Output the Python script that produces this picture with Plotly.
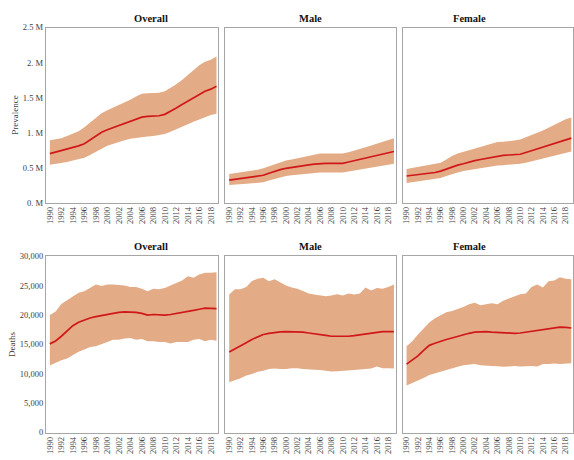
import plotly.graph_objects as go
import numpy as np

years = list(range(1990, 2020))
panel_titles = ["Overall", "Male", "Female"]
prev_ticks = [0, 0.5, 1, 1.5, 2, 2.5]
prev_ticktext = ["0. M", "0.5 M", "1. M", "1.5 M", "2. M", "2.5 M"]
death_ticks = [0, 5000, 10000, 15000, 20000, 25000, 30000]
death_ticktext = ["0", "5,000", "10,000", "15,000", "20,000", "25,000", "30,000"]

# Prevalence (millions)
prev_overall_mean = [0.70, 0.72, 0.745, 0.765, 0.785, 0.81, 0.84, 0.895, 0.96, 1.005, 1.04, 1.07, 1.10, 1.13, 1.16,
                     1.19, 1.22, 1.23, 1.23, 1.24, 1.26, 1.30, 1.35, 1.40, 1.45, 1.50, 1.55, 1.59, 1.62, 1.66]
prev_overall_upper = [0.89, 0.905, 0.92, 0.95, 0.98, 1.02, 1.075, 1.14, 1.215, 1.275, 1.32, 1.355, 1.39, 1.43, 1.47,
                      1.515, 1.555, 1.56, 1.56, 1.57, 1.59, 1.635, 1.69, 1.75, 1.82, 1.89, 1.96, 2.01, 2.04, 2.085]
prev_overall_lower = [0.54, 0.55, 0.56, 0.58, 0.60, 0.62, 0.64, 0.68, 0.73, 0.77, 0.81, 0.84, 0.866, 0.89, 0.91,
                      0.925, 0.94, 0.945, 0.95, 0.96, 0.98, 1.01, 1.05, 1.085, 1.12, 1.155, 1.19, 1.22, 1.25, 1.27]

prev_male_mean = [0.32, 0.33, 0.345, 0.35, 0.36, 0.375, 0.39, 0.42, 0.45, 0.47, 0.49, 0.505, 0.52, 0.53, 0.54,
                  0.55, 0.56, 0.56, 0.56, 0.56, 0.56, 0.58, 0.60, 0.615, 0.63, 0.65, 0.67, 0.69, 0.71, 0.73]
prev_male_upper = [0.41, 0.42, 0.435, 0.44, 0.45, 0.47, 0.49, 0.52, 0.55, 0.575, 0.60, 0.615, 0.63, 0.65, 0.67,
                   0.685, 0.70, 0.70, 0.70, 0.70, 0.70, 0.72, 0.74, 0.765, 0.79, 0.815, 0.84, 0.87, 0.90, 0.92]
prev_male_lower = [0.25, 0.26, 0.265, 0.27, 0.275, 0.28, 0.29, 0.315, 0.34, 0.36, 0.38, 0.39, 0.40, 0.41, 0.42,
                   0.425, 0.43, 0.43, 0.43, 0.43, 0.43, 0.445, 0.46, 0.47, 0.48, 0.50, 0.52, 0.53, 0.54, 0.555]

prev_female_mean = [0.38, 0.39, 0.40, 0.405, 0.41, 0.43, 0.45, 0.48, 0.51, 0.535, 0.555, 0.58, 0.60, 0.615, 0.63,
                    0.65, 0.67, 0.675, 0.68, 0.685, 0.69, 0.715, 0.74, 0.765, 0.79, 0.815, 0.84, 0.87, 0.90, 0.92]
prev_female_upper = [0.48, 0.495, 0.51, 0.52, 0.53, 0.55, 0.57, 0.615, 0.665, 0.70, 0.725, 0.75, 0.77, 0.795, 0.82,
                     0.845, 0.866, 0.87, 0.875, 0.885, 0.90, 0.93, 0.96, 0.995, 1.03, 1.07, 1.11, 1.15, 1.19, 1.215]
prev_female_lower = [0.28, 0.29, 0.30, 0.31, 0.32, 0.335, 0.35, 0.38, 0.41, 0.43, 0.45, 0.465, 0.48, 0.49, 0.50,
                     0.515, 0.53, 0.535, 0.54, 0.545, 0.555, 0.57, 0.59, 0.605, 0.62, 0.645, 0.67, 0.685, 0.70, 0.73]

# Deaths (thousands)
death_overall_mean = [15.1, 15.6, 16.4, 17.3, 18.2, 18.8, 19.2, 19.5, 19.75, 19.95, 20.15, 20.3, 20.45, 20.55, 20.55,
                      20.45, 20.3, 20.0, 20.1, 20.05, 20.0, 20.1, 20.25, 20.4, 20.6, 20.8, 21.0, 21.2, 21.15, 21.1]
death_overall_upper = [20.0, 20.6, 21.9, 22.55, 23.1, 23.8, 24.05, 24.6, 25.2, 24.95, 25.2, 25.2, 25.1, 25.05, 24.8,
                       24.8, 24.5, 24.05, 24.5, 24.4, 24.6, 25.05, 25.5, 25.9, 26.6, 26.35, 26.9, 27.2, 27.2, 27.3]
death_overall_lower = [11.4, 11.9, 12.3, 12.6, 13.15, 13.75, 14.15, 14.55, 14.7, 15.0, 15.4, 15.8, 15.8, 16.0, 16.1,
                       15.8, 15.95, 15.55, 15.55, 15.4, 15.4, 15.15, 15.4, 15.4, 15.4, 15.8, 15.95, 15.55, 15.8, 15.65]

death_male_mean = [13.7, 14.2, 14.7, 15.3, 15.85, 16.3, 16.7, 16.9, 17.05, 17.15, 17.2, 17.2, 17.2, 17.1, 16.95,
                   16.85, 16.7, 16.55, 16.4, 16.4, 16.35, 16.4, 16.5, 16.65, 16.8, 16.95, 17.1, 17.2, 17.2, 17.2]
death_male_upper = [23.5, 24.4, 24.4, 24.8, 25.8, 26.2, 26.35, 25.75, 26.1, 25.5, 25.05, 24.7, 24.5, 24.1, 23.7,
                    23.5, 23.3, 23.2, 23.35, 23.55, 23.35, 23.7, 23.5, 23.7, 24.7, 24.2, 24.6, 24.5, 24.8, 25.2]
death_male_lower = [8.55, 8.85, 9.25, 9.7, 9.95, 10.35, 10.5, 10.8, 10.9, 10.8, 10.8, 10.95, 10.95, 10.8, 10.8,
                    10.7, 10.65, 10.5, 10.4, 10.45, 10.5, 10.5, 10.65, 10.75, 10.8, 10.9, 11.25, 10.95, 10.95, 10.9]

death_female_mean = [11.65, 12.3, 13.05, 14.0, 14.85, 15.2, 15.55, 15.85, 16.1, 16.4, 16.7, 16.9, 17.1, 17.2, 17.2,
                     17.1, 17.05, 16.95, 16.85, 16.9, 16.95, 17.1, 17.25, 17.35, 17.5, 17.7, 17.9, 17.95, 17.9, 17.8]
death_female_upper = [14.7, 15.55, 16.7, 17.8, 18.75, 19.45, 20.0, 20.5, 20.7, 21.0, 21.4, 21.85, 22.1, 21.7, 21.9,
                      22.0, 21.85, 22.45, 22.85, 23.2, 23.55, 23.7, 24.8, 25.2, 24.7, 25.75, 25.9, 26.45, 26.2, 26.1]
death_female_lower = [8.0, 8.4, 8.8, 9.3, 9.8, 10.1, 10.4, 10.65, 10.9, 11.2, 11.45, 11.6, 11.65, 11.45, 11.35,
                      11.35, 11.3, 11.2, 11.25, 11.35, 11.25, 11.35, 11.35, 11.25, 11.65, 11.65, 11.75, 11.65, 11.75, 11.8]

FONT = "Liberation Serif"
FILL = "#E3AB86"
LINE = "#D01818"
FRAME = "#A6A6A6"
TICKC = "#404040"

W, H = 574, 460
xdoms = [(45 / W, 218 / W), (225 / W, 396 / W), (403 / W, 1.0)]
ydoms = [(1 - 202 / H, 1 - 23 / H), (1 - 437 / H, 1 - 257 / H)]

rows = [
    [(prev_overall_mean, prev_overall_upper, prev_overall_lower),
     (prev_male_mean, prev_male_upper, prev_male_lower),
     (prev_female_mean, prev_female_upper, prev_female_lower)],
    [(np.array(death_overall_mean) * 1000, np.array(death_overall_upper) * 1000, np.array(death_overall_lower) * 1000),
     (np.array(death_male_mean) * 1000, np.array(death_male_upper) * 1000, np.array(death_male_lower) * 1000),
     (np.array(death_female_mean) * 1000, np.array(death_female_upper) * 1000, np.array(death_female_lower) * 1000)],
]

fig = go.Figure()
layout = dict(
    width=W, height=H, margin=dict(l=0, r=0, t=0, b=0),
    paper_bgcolor="white", plot_bgcolor="white", showlegend=False,
    font=dict(family=FONT, size=9, color=TICKC),
)
annotations = []
k = 0
for r in range(2):
    for c in range(3):
        k += 1
        xa = "x" if k == 1 else f"x{k}"
        ya = "y" if k == 1 else f"y{k}"
        mean, up, lo = rows[r][c]
        fig.add_trace(go.Scatter(x=years, y=list(up), mode="lines", line=dict(width=0, color=FILL),
                                 xaxis=xa, yaxis=ya, hoverinfo="skip"))
        fig.add_trace(go.Scatter(x=years, y=list(lo), mode="lines", line=dict(width=0, color=FILL),
                                 fill="tonexty", fillcolor=FILL, xaxis=xa, yaxis=ya, hoverinfo="skip"))
        fig.add_trace(go.Scatter(x=years, y=list(mean), mode="lines", line=dict(width=1.7, color=LINE),
                                 xaxis=xa, yaxis=ya))
        xkey = "xaxis" if k == 1 else f"xaxis{k}"
        ykey = "yaxis" if k == 1 else f"yaxis{k}"
        layout[xkey] = dict(
            domain=xdoms[c], anchor=ya, range=[1989.3, 2019.3],
            tickmode="array", tickvals=list(range(1990, 2019, 2)),
            ticktext=[str(v) for v in range(1990, 2019, 2)],
            tickangle=-90, tickfont=dict(family=FONT, size=8.5, color=TICKC),
            showgrid=False, zeroline=False, showline=True, mirror=True,
            linecolor=FRAME, linewidth=1, ticks="",
        )
        if r == 0:
            yt = dict(range=[0, 2.5], tickvals=prev_ticks, ticktext=prev_ticktext)
        else:
            yt = dict(range=[0, 30000], tickvals=death_ticks, ticktext=death_ticktext)
        layout[ykey] = dict(
            domain=ydoms[r], anchor=xa, tickmode="array", **yt,
            showticklabels=(c == 0), tickfont=dict(family=FONT, size=8.5, color=TICKC),
            showgrid=False, zeroline=False, showline=True, mirror=True,
            linecolor=FRAME, linewidth=1, ticks="",
        )
        if c == 0:
            layout[ykey]["title"] = dict(text="Prevalence" if r == 0 else "Deaths",
                                         font=dict(family=FONT, size=9, color=TICKC), standoff=2)
        annotations.append(dict(
            text=f"<b>{panel_titles[c]}</b>", xref="paper", yref="paper",
            x=(xdoms[c][0] + xdoms[c][1]) / 2, y=ydoms[r][1], yanchor="bottom", yshift=2,
            showarrow=False, font=dict(family=FONT, size=10.5, color="#111111"),
        ))

layout["annotations"] = annotations
fig.update_layout(**layout)
fig.write_html("out.html", config={"displayModeBar": False},
               post_script="document.body.style.margin='0';document.body.style.overflow='hidden';")
